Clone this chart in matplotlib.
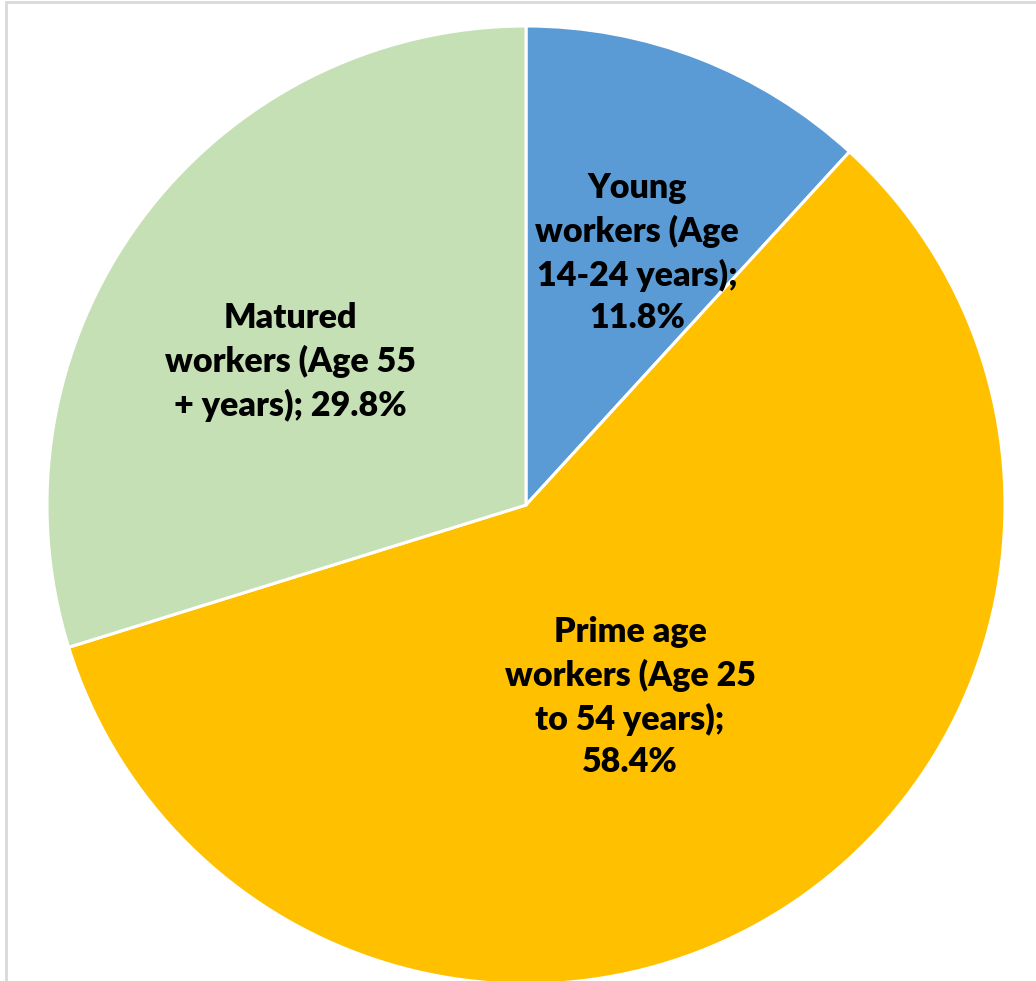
import matplotlib.pyplot as plt
from matplotlib.patches import Rectangle

# data
labels = ['Young\nworkers (Age\n14-24 years);\n11.8%',
          'Prime age\nworkers (Age 25\nto 54 years);\n58.4%',
          'Matured\nworkers (Age 55\n+ years); 29.8%']
shares = [11.8, 58.4, 29.8]
colors = ['#5B9BD5', '#FFC000', '#C5E0B4']

W, H = 1036, 981
fig = plt.figure(figsize=(W / 100, H / 100), dpi=100)
ax = fig.add_axes([0, 0, 1, 1])

# chart frame (only top/left visible in the crop)
fig.patches.append(Rectangle((5.5 / W, -0.1), 1.2, (H - 2.5) / H + 0.1,
                             transform=fig.transFigure, fill=False,
                             edgecolor='#D9D9D9', linewidth=2))

cx, cy, r = 526, H - 505, 479
wedges, _ = ax.pie(shares, colors=colors, startangle=90, counterclock=False,
                   center=(cx, cy), radius=r, frame=True,
                   wedgeprops=dict(edgecolor='white', linewidth=2.2))
ax.set_xlim(0, W)
ax.set_ylim(0, H)
ax.set_aspect('equal')
ax.axis('off')

# label positions (pixels)
label_pos = [(637, 253), (630, 697), (290, 362)]
for (px, py), lab in zip(label_pos, labels):
    ax.text(px, H - py, lab, ha='center', va='center', fontsize=24.5,
            fontweight='heavy', family='Lato', linespacing=1.4)

fig.savefig('out.png', dpi=100, facecolor='white')
